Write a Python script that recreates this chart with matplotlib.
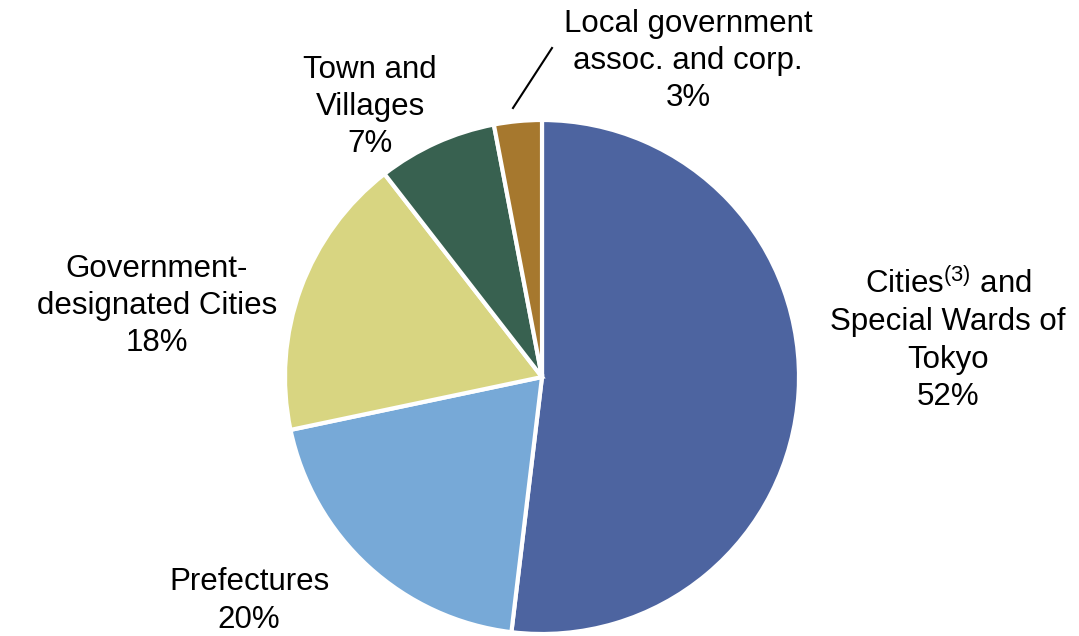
import matplotlib.pyplot as plt

plt.rcParams["font.family"] = ["Liberation Sans", "DejaVu Sans"]
plt.rcParams["mathtext.fontset"] = "custom"
plt.rcParams["mathtext.rm"] = "Liberation Sans"
plt.rcParams["mathtext.default"] = "regular"

# --- Data (clockwise from 12 o'clock) ---------------------------------------
labels = [
    "Cities$^{(3)}$ and\nSpecial Wards of\nTokyo",
    "Prefectures",
    "Government-\ndesignated Cities",
    "Town and\nVillages",
    "Local government\nassoc. and corp.",
]
shares = [51.9, 19.8, 17.8, 7.5, 3.0]      # slice sizes as drawn
pct_labels = ["52%", "20%", "18%", "7%", "3%"]  # as printed on the chart
colors = ["#4D64A0", "#77A9D7", "#D8D581", "#386150", "#A6782E"]

# label centres in pixel space (y measured from the bottom)
label_pos = [(948, 296), (249, 35), (157, 330), (370, 529), (688, 575)]

W, H = 1079, 636
fig = plt.figure(figsize=(W / 100, H / 100), dpi=100)
ax = fig.add_axes([0, 0, 1, 1])

ax.pie(
    shares,
    colors=colors,
    center=(542, 259),
    radius=257,
    startangle=90,
    counterclock=False,
    wedgeprops=dict(edgecolor="white", linewidth=3),
    frame=True,
)
ax.set_xlim(0, W)
ax.set_ylim(0, H)
ax.set_aspect("equal")
ax.axis("off")

for lab, pct, (x, y) in zip(labels, pct_labels, label_pos):
    ax.text(x, y, f"{lab}\n{pct}", ha="center", va="center",
            fontsize=22.5, linespacing=1.32, color="black")

# leader line for the small slice
ax.plot([513, 552], [H - 108, H - 48], color="black", lw=1.5)

fig.savefig("out.png", dpi=100)
